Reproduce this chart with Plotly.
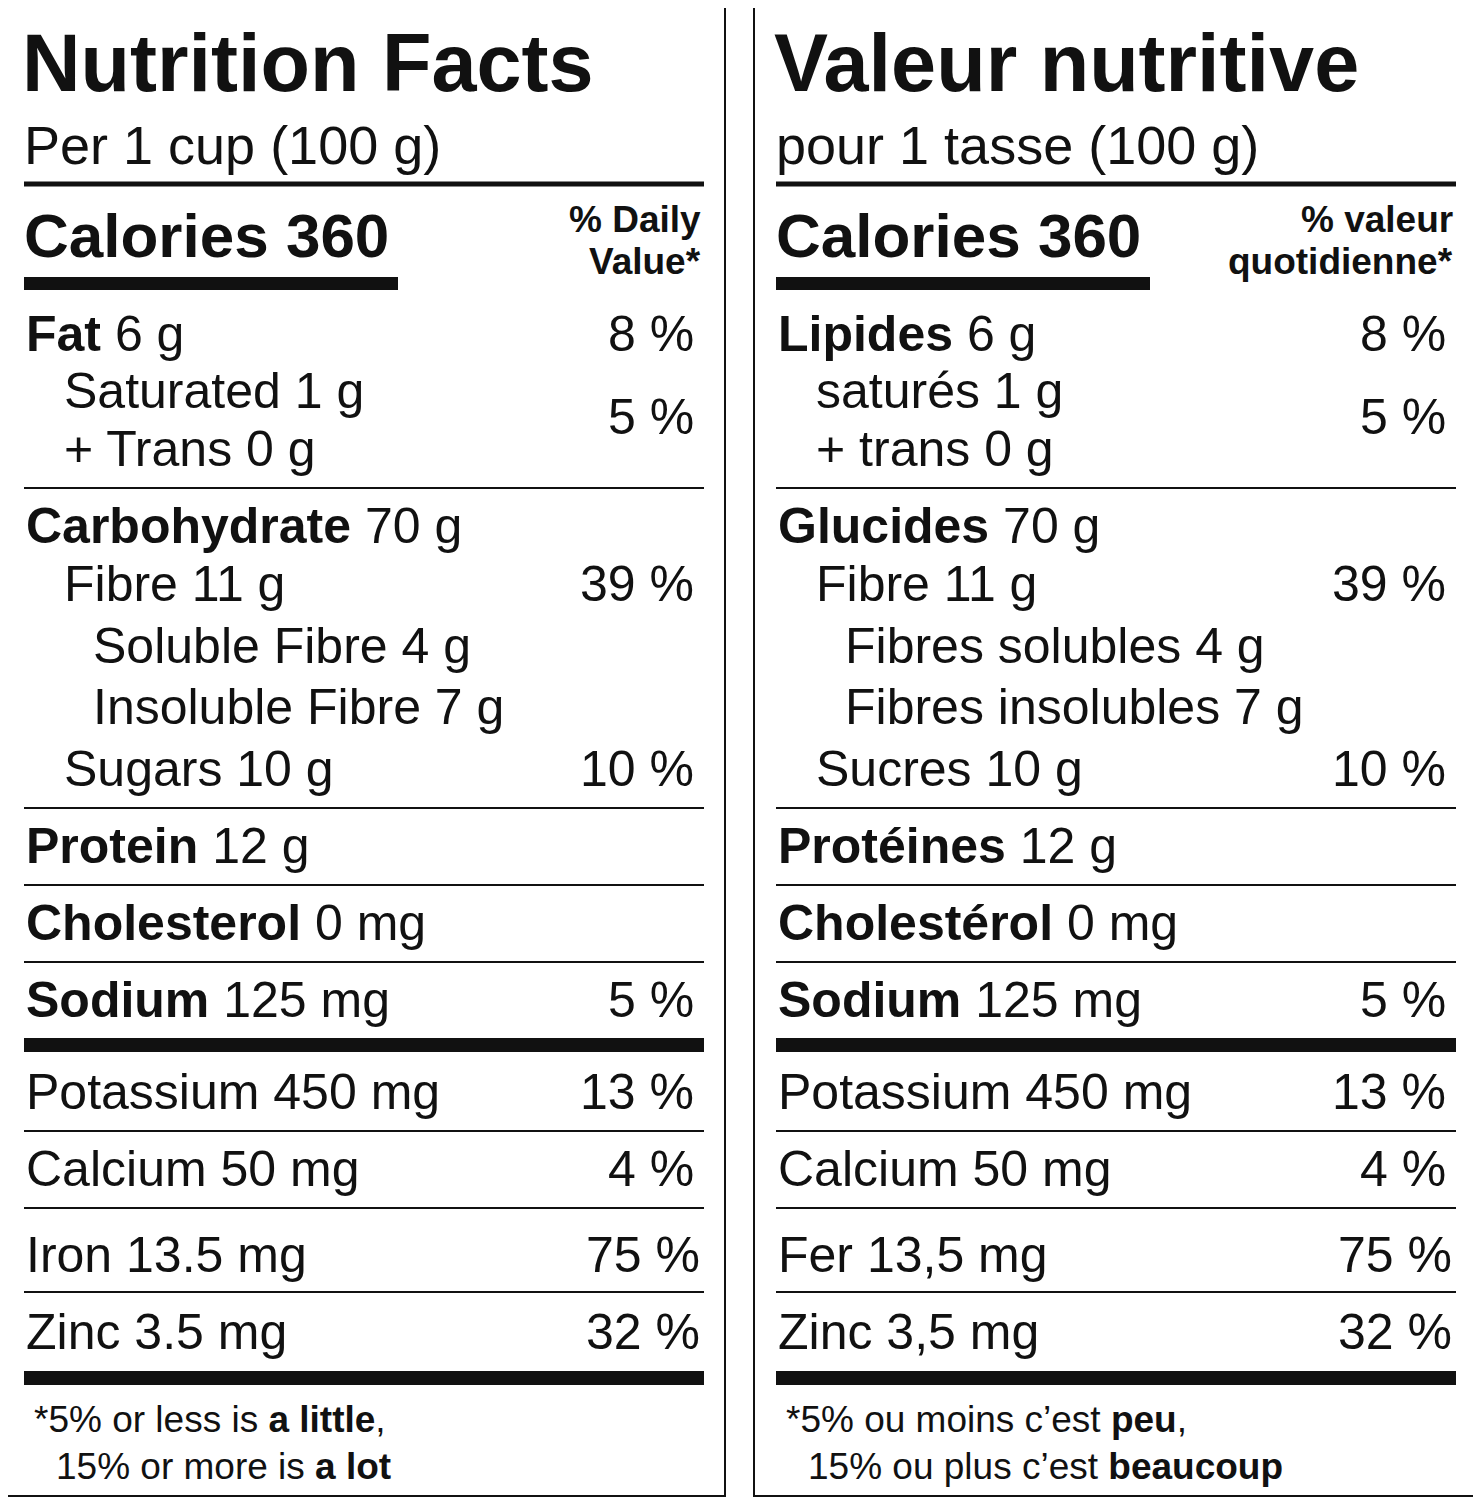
import plotly.graph_objects as go

W, H = 1481, 1500

# ---- label content ----
title_en = "Nutrition Facts"
title_fr = "Valeur nutritive"
serving_en = "Per 1 cup (100 g)"
serving_fr = "pour 1 tasse (100 g)"
calories = 360
dv_en = ["% Daily", "Value*"]
dv_fr = ["% valeur", "quotidienne*"]

names_en = ["Fat", "Saturated", "+ Trans", "Carbohydrate", "Fibre", "Soluble Fibre",
            "Insoluble Fibre", "Sugars", "Protein", "Cholesterol", "Sodium",
            "Potassium", "Calcium", "Iron", "Zinc"]
names_fr = ["Lipides", "saturés", "+ trans", "Glucides", "Fibre", "Fibres solubles",
            "Fibres insolubles", "Sucres", "Protéines", "Cholestérol", "Sodium",
            "Potassium", "Calcium", "Fer", "Zinc"]
amounts_en = ["6 g", "1 g", "0 g", "70 g", "11 g", "4 g", "7 g", "10 g", "12 g",
              "0 mg", "125 mg", "450 mg", "50 mg", "13.5 mg", "3.5 mg"]
amounts_fr = ["6 g", "1 g", "0 g", "70 g", "11 g", "4 g", "7 g", "10 g", "12 g",
              "0 mg", "125 mg", "450 mg", "50 mg", "13,5 mg", "3,5 mg"]
bold_name = [True, False, False, True, False, False, False, False, True, True, True,
             False, False, False, False]
indent = [0, 1, 1, 0, 1, 2, 2, 1, 0, 0, 0, 0, 0, 0, 0]
row_y = [335, 392, 450, 527, 585, 647, 708, 770, 847, 924, 1001, 1093, 1170, 1256, 1333]

pct_values = ["8 %", "5 %", "39 %", "10 %", "5 %", "13 %", "4 %", "75 %", "32 %"]
pct_y = [335, 418, 585, 770, 1001, 1093, 1170, 1256, 1333]
pct_x = [697, 697, 697, 697, 697, 697, 697, 703, 703]

foot_en = ["*5% or less is <b>a little</b>,", "15% or more is <b>a lot</b>"]
foot_fr = ["*5% ou moins c’est <b>peu</b>,", "15% ou plus c’est <b>beaucoup</b>"]

thin_lines = [489, 809, 886, 963, 1132, 1209, 1293]
FONT = "Liberation Sans, Arial, sans-serif"
OFF = 9  # page body margin compensation

fig = go.Figure()
ann = []
shapes = []


def text(x, y, s, size, anchor="left"):
    ann.append(dict(x=x, y=y, text=s, showarrow=False, xanchor=anchor, yanchor="middle",
                    font=dict(family=FONT, size=size, color="#111")))


def hline(y, x0, x1, w):
    shapes.append(dict(type="line", x0=x0, x1=x1, y0=y, y1=y,
                       line=dict(color="#111", width=w)))


def panel(dx, title, serving, dv, names, amounts, foot):
    shapes.append(dict(type="rect", x0=3 + dx, x1=726 + dx, y0=3, y1=1497,
                       line=dict(color="#111", width=2)))
    L, R = 25 + dx, 705 + dx
    text(L - 4, 64, "<b>" + title + "</b>", 81)
    text(L - 2, 146, serving, 54)
    hline(185, L, R, 5)
    text(L - 2, 236, "<b>Calories %d</b>" % calories, 62)
    shapes.append(dict(type="rect", x0=L, x1=399 + dx, y0=278, y1=291,
                       fillcolor="#111", line=dict(width=0)))
    text(R - 1, 220, "<b>" + dv[0] + "</b>", 37, "right")
    text(R - 1, 262, "<b>" + dv[1] + "</b>", 37, "right")
    for n, a, b, ind, y in zip(names, amounts, bold_name, indent, row_y):
        lab = ("<b>%s</b>" % n) if b else n
        text(L + [0, 38, 67][ind], y, lab + " " + a, 50)
    for p, y, x in zip(pct_values, pct_y, pct_x):
        text(x + dx, y, p, 50, "right")
    for y in thin_lines:
        hline(y, L, R, 2)
    hline(1046, L, R, 14)
    hline(1379, L, R, 14)
    text(L + 8, 1420, foot[0], 37)
    text(L + 30, 1467, foot[1], 37)


panel(0, title_en, serving_en, dv_en, names_en, amounts_en, foot_en)
panel(752, title_fr, serving_fr, dv_fr, names_fr, amounts_fr, foot_fr)

fig.update_layout(width=W, height=H, margin=dict(l=0, r=0, t=0, b=0),
                  paper_bgcolor="white", plot_bgcolor="white",
                  annotations=ann, shapes=shapes, showlegend=False)
fig.update_xaxes(range=[OFF, W + OFF], visible=False)
fig.update_yaxes(range=[H + OFF, OFF], visible=False)
fig.write_html("out.html")
